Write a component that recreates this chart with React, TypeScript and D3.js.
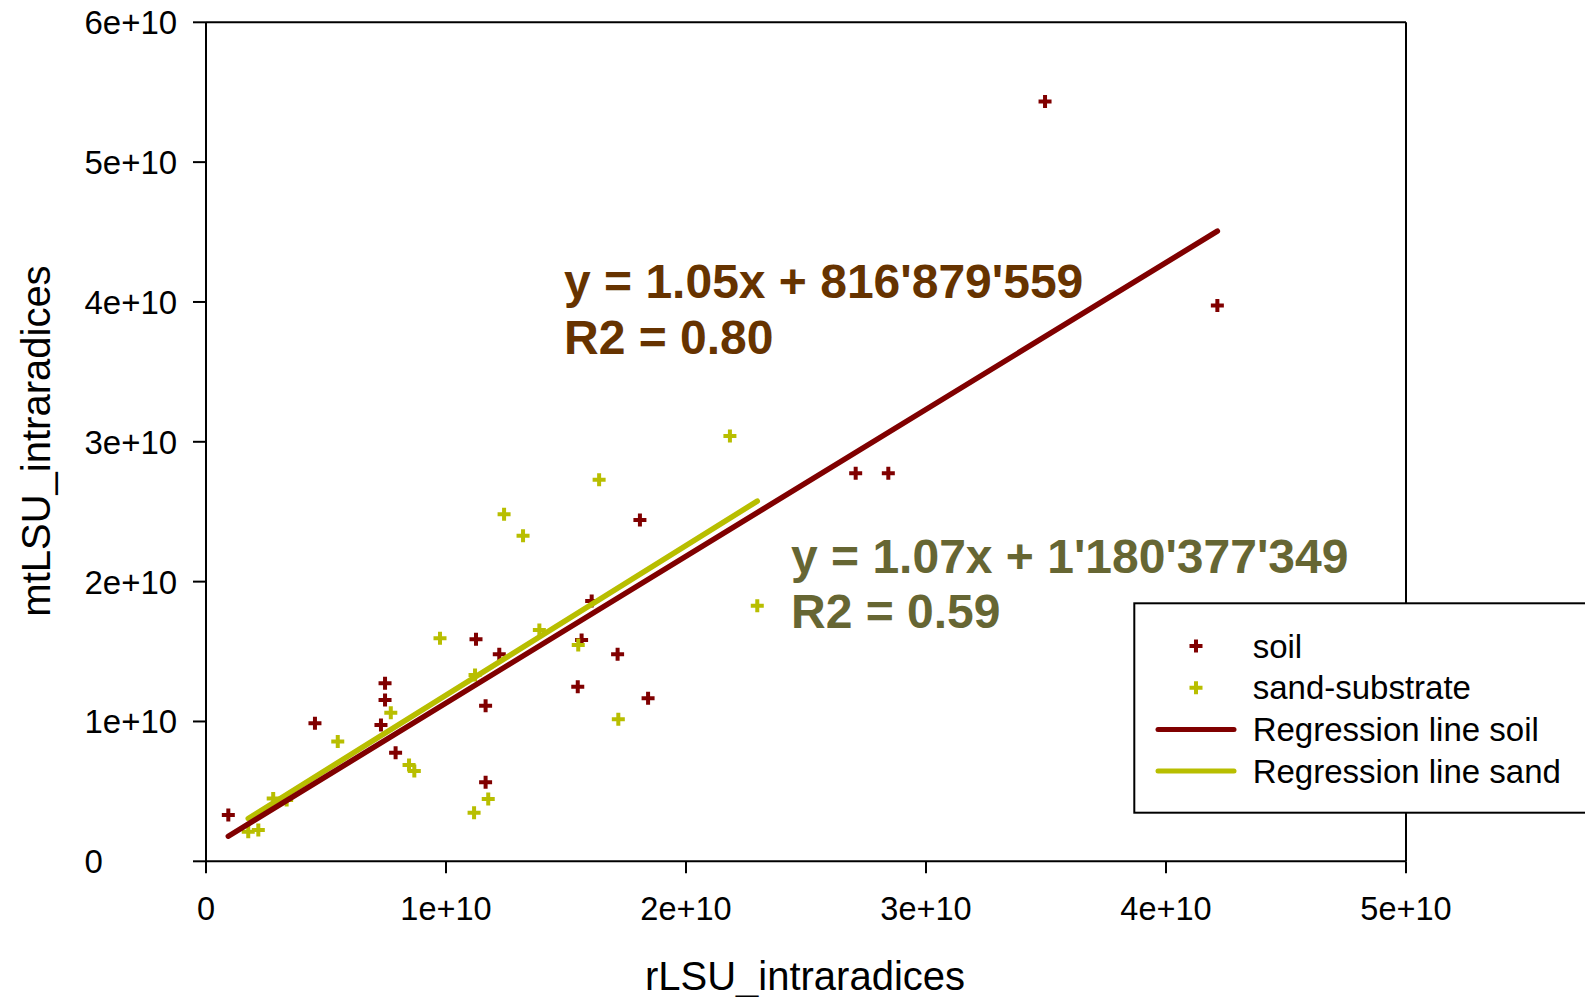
import React from "react";
import * as d3 from "d3";

// Data (values in raw units)
const soilX = [0.093, 0.454, 0.746, 0.746, 0.729, 0.790, 1.125, 1.222, 1.165, 1.165, 1.607, 1.565, 1.549, 1.715, 1.808, 1.842, 2.707, 2.843, 3.496, 4.214].map(v => v * 1e10);
const soilY = [0.331, 0.987, 1.273, 1.154, 0.975, 0.777, 1.588, 1.481, 1.113, 0.565, 1.862, 1.583, 1.249, 1.481, 2.441, 1.166, 2.775, 2.775, 5.434, 3.974].map(v => v * 1e10);
const sandX = [0.176, 0.218, 0.280, 0.336, 0.549, 0.770, 0.846, 0.868, 0.975, 1.117, 1.121, 1.176, 1.242, 1.321, 1.389, 1.551, 1.638, 1.718, 2.183, 2.297].map(v => v * 1e10);
const sandY = [0.212, 0.224, 0.449, 0.439, 0.856, 1.063, 0.689, 0.646, 1.595, 0.348, 1.333, 0.446, 2.482, 2.329, 1.655, 1.547, 2.728, 1.016, 3.042, 1.828].map(v => v * 1e10);

const soilFit = { slope: 1.05, intercept: 816879559, r2: "0.80", label: "y = 1.05x + 816'879'559" };
const sandFit = { slope: 1.07, intercept: 1180377349, r2: "0.59", label: "y = 1.07x + 1'180'377'349" };

const xTicks = [0, 1e10, 2e10, 3e10, 4e10, 5e10];
const yTicks = [0, 1e10, 2e10, 3e10, 4e10, 5e10, 6e10];
const tickLabel = (v: number) => (v === 0 ? "0" : `${v / 1e10}e+10`);

const legendItems = [
  { label: "soil", kind: "point", color: "#800000" },
  { label: "sand-substrate", kind: "point", color: "#B8BE00" },
  { label: "Regression line soil", kind: "line", color: "#800000" },
  { label: "Regression line sand", kind: "line", color: "#B8BE00" },
];

const SOIL = "#800000";
const SAND = "#B8BE00";
const FONT = "'Liberation Sans', Arial, sans-serif";

export default function App() {
  const W = 1585, H = 997;
  const x = d3.scaleLinear().domain([0, 5e10]).range([206, 1406]);
  const y = d3.scaleLinear().domain([0, 6e10]).range([861.3, 22.3]);
  const plus = "M-6.5,0H6.5M0,-6.5V6.5";

  const fitLine = (xs: number[], fit: { slope: number; intercept: number }) => {
    const [mn, mx] = d3.extent(xs) as [number, number];
    const line = d3.line<number>().x(d => x(d)).y(d => y(fit.slope * d + fit.intercept));
    return line([mn, mx]) || "";
  };

  const x0 = x(0), x1 = x(5e10), y0 = y(0), y1 = y(6e10);

  return (
    <svg width={W} height={H} style={{ position: "absolute", left: 0, top: 0, background: "#fff" }} fontFamily={FONT}>
      <rect x={0} y={0} width={W} height={H} fill="#fff" />
      {/* frame */}
      <g stroke="#000" strokeWidth={2} fill="none">
        <line x1={x0} x2={x1} y1={y0} y2={y0} />
        <line x1={x0} x2={x1} y1={y1} y2={y1} />
        <line x1={x0} x2={x0} y1={y1} y2={y0} />
        <line x1={x1} x2={x1} y1={y1} y2={y0} />
        {xTicks.map(t => <line key={"xt" + t} x1={x(t)} x2={x(t)} y1={y0} y2={y0 + 12} />)}
        {yTicks.map(t => <line key={"yt" + t} x1={x0 - 13} x2={x0} y1={y(t)} y2={y(t)} />)}
      </g>
      {xTicks.map(t => (
        <text key={"xl" + t} x={x(t)} y={y0 + 58.5} textAnchor="middle" fontSize={32.5} fill="#000">{tickLabel(t)}</text>
      ))}
      {yTicks.map(t => (
        <text key={"yl" + t} x={84.5} y={y(t) + 12} textAnchor="start" fontSize={33} fill="#000">{tickLabel(t)}</text>
      ))}
      <text x={805} y={990} textAnchor="middle" fontSize={40} fill="#000">rLSU_intraradices</text>
      <text transform={`translate(50,441) rotate(-90)`} textAnchor="middle" fontSize={40} fill="#000">mtLSU_intraradices</text>

      {/* points */}
      {soilX.map((v, i) => (
        <path key={"s" + i} d={plus} transform={`translate(${x(v)},${y(soilY[i])})`} stroke={SOIL} strokeWidth={4} fill="none" />
      ))}
      {sandX.map((v, i) => (
        <path key={"d" + i} d={plus} transform={`translate(${x(v)},${y(sandY[i])})`} stroke={SAND} strokeWidth={4} fill="none" />
      ))}

      {/* regression lines */}
      <path d={fitLine(sandX, sandFit)} stroke={SAND} strokeWidth={5.5} strokeLinecap="round" fill="none" />
      <path d={fitLine(soilX, soilFit)} stroke={SOIL} strokeWidth={5.5} strokeLinecap="round" fill="none" />

      {/* equations */}
      <g fontWeight="bold" fill="#663300" fontSize={48}>
        <text x={564} y={298}>{soilFit.label}</text>
        <text x={564} y={353.5}>{`R2 = ${soilFit.r2}`}</text>
      </g>
      <g fontWeight="bold" fill="#666633" fontSize={48}>
        <text x={791} y={572.5}>{sandFit.label}</text>
        <text x={791} y={628}>{`R2 = ${sandFit.r2}`}</text>
      </g>

      {/* legend */}
      <rect x={1134.3} y={603.3} width={500} height={209.4} fill="#fff" stroke="#000" strokeWidth={2} />
      {legendItems.map((it, i) => {
        const cy = 646 + i * 41.7;
        return (
          <g key={it.label}>
            {it.kind === "point" ? (
              <path d={plus} transform={`translate(1196,${cy})`} stroke={it.color} strokeWidth={4} fill="none" />
            ) : (
              <line x1={1158} x2={1234} y1={cy} y2={cy} stroke={it.color} strokeWidth={5} strokeLinecap="round" />
            )}
            <text x={1252.7} y={cy + 11.5} fontSize={33} fill="#000">{it.label}</text>
          </g>
        );
      })}
    </svg>
  );
}
